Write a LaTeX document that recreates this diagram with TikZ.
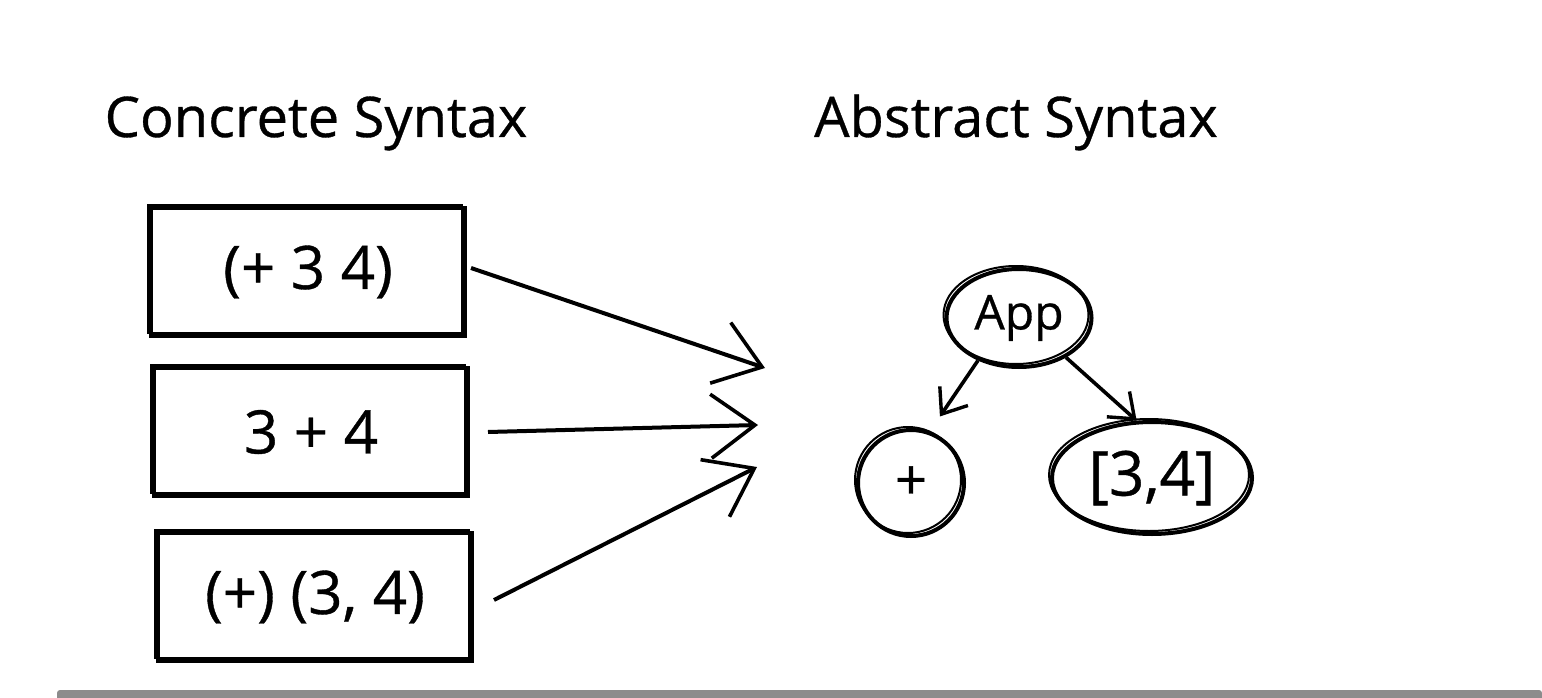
\documentclass[tikz,border=0pt]{standalone}
\usepackage{fontspec}
\setmainfont{Open Sans}[FakeBold=0.6]
\usetikzlibrary{arrows.meta,shapes.geometric}

\begin{document}
\begin{tikzpicture}[x=1pt,y=-1pt,
  box/.style={draw,line width=4pt,minimum width=314pt,minimum height=128pt,font=\fontsize{60}{70}\selectfont},
  sketch/.style={postaction={draw,line width=2pt,transform canvas={xshift=-3pt,yshift=3pt}}},
  big/.style={line width=4pt,-{Straight Barb[length=44pt,width=64pt,line width=3.6pt]}},
  small/.style={line width=3.6pt,-{Straight Barb[length=22pt,width=34pt,line width=3.4pt]}},
  title/.style={anchor=base,font=\fontsize{56}{66}\selectfont}]
\useasboundingbox (0,0) rectangle (1542,698);
\node[title] (conc) at (316,137) {Concrete Syntax};
\node[title] (abst) at (1016,137) {Abstract Syntax};
% three ways to write it
\node[box,sketch] (prefix) at (308,272) {(+ 3 4)};
\node[box,sketch] (infix) at (311,432) {3 + 4};
\node[box,sketch] (call) at (315,597) {(+) (3, 4)};
\coordinate (tip1) at (765,368);
\coordinate (tip2) at (758,425);
\coordinate (tip3) at (757,467);
\draw[big] ([xshift=4pt,yshift=4pt]prefix.east) -- (tip1);
\draw[big] ([xshift=18pt]infix.east) -- (tip2);
\draw[big] ([xshift=20pt,yshift=-3pt]call.east) -- (tip3);
% the tree
\node[ellipse,draw,line width=4pt,sketch,minimum width=145pt,minimum height=98pt,inner sep=0pt,font=\fontsize{48}{56}\selectfont] (app) at (1019,318) {App};
\node[circle,draw,line width=4pt,sketch,minimum size=106pt,inner sep=0pt,font=\fontsize{56}{60}\selectfont] (plus) at (911,483) {+};
\node[ellipse,draw,line width=4pt,sketch,minimum width=200pt,minimum height=112pt,inner sep=0pt,font=\fontsize{62}{70}\selectfont] (args) at (1152,478) {[3,4]};
\draw[small,shorten >=18pt] (app.-134) -- (plus.70);
\draw[small] (app.-40) -- (args.105);
\fill[black!45,rounded corners=3pt] (57,690) rectangle (1542,702);
\end{tikzpicture}
\end{document}
